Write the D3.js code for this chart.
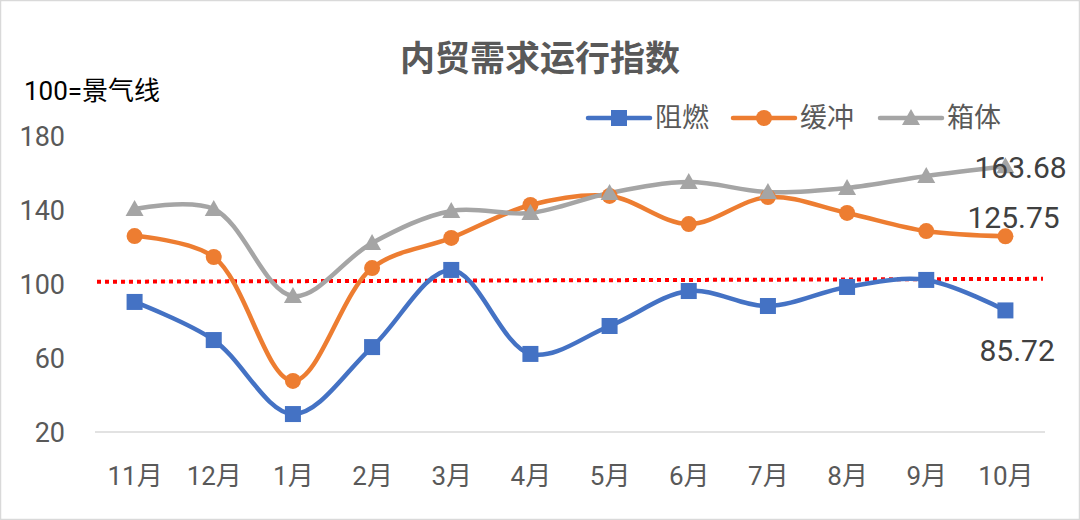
<!DOCTYPE html>
<html><head><meta charset="utf-8">
<script src="https://cdn.jsdelivr.net/npm/d3@7"></script>
<style>
html,body{margin:0;padding:0;background:#fff;}
svg{display:block;}
</style></head>
<body>
<svg id="c" width="1080" height="520"></svg>
<script>
const months = ["11月","12月","1月","2月","3月","4月","5月","6月","7月","8月","9月","10月"];
const flameRetardant = [90.3, 69.7, 29.7, 65.9, 107.6, 62.2, 77.3, 96.2, 88.1, 98.4, 102.2, 85.72];
const cushion = [125.9, 114.6, 47.6, 108.6, 124.9, 142.7, 147.6, 132.4, 147.0, 138.4, 128.6, 125.75];
const boxBody = [140.5, 140.5, 93.5, 122.2, 139.5, 138.4, 149.2, 155.1, 149.7, 151.9, 158.4, 163.68];
const seriesNames = ["阻燃","缓冲","箱体"];
const yTicks = [20, 60, 100, 140, 180];
const refLine = [101.2, 102.8];
const endLabels = ["85.72","125.75","163.68"];
const title = "内贸需求运行指数";
const note = "100=景气线";

const svg = d3.select("#c");
const W = 1080, H = 520;
const plot = {left: 95, right: 1045, top: 136, bottom: 432};
const colors = ["#4472C4", "#ED7D31", "#A5A5A5"];
const data = [flameRetardant, cushion, boxBody];
const cjk = "'Noto Sans CJK SC', 'Noto Sans', sans-serif";
const num = "Roboto, 'Noto Sans CJK SC', sans-serif";

svg.append("rect").attr("x",0.5).attr("y",0.5).attr("width",W-1).attr("height",H-1)
  .attr("fill","#fff").attr("stroke","#d9d9d9").attr("stroke-width",1.5);

const x = d3.scalePoint().domain(months).range([plot.left, plot.right]).padding(0.5);
const y = d3.scaleLinear().domain([20,180]).range([plot.bottom, plot.top]);

// title
svg.append("text").attr("x",540).attr("y",71).attr("text-anchor","middle")
  .attr("font-family",cjk).attr("font-size",35).attr("font-weight","bold").attr("fill","#595959").text(title);
svg.append("text").attr("x",24).attr("y",100)
  .attr("font-family",num).attr("font-size",26).attr("fill","#000").text(note);

// y axis
const yAxis = d3.axisLeft(y).tickValues(yTicks).tickSize(0).tickPadding(0);
const gy = svg.append("g").attr("transform",`translate(65,0)`).call(yAxis);
gy.select(".domain").remove();
gy.selectAll("text").attr("font-family",num).attr("font-size",27).attr("fill","#595959").attr("dy","0.35em");

// x axis
const xAxis = d3.axisBottom(x).tickSize(0).tickPadding(0);
const gx = svg.append("g").attr("transform",`translate(0,${plot.bottom})`).call(xAxis);
gx.select(".domain").attr("stroke","#d9d9d9").attr("stroke-width",1.5).attr("d",`M${plot.left},0H${plot.right}`);
gx.selectAll("text").attr("font-family",num).attr("font-size",26).attr("fill","#595959").attr("y",44).attr("dy","0.35em");

// reference line
svg.append("line").attr("x1",plot.left+2).attr("x2",plot.right-2)
  .attr("y1",y(refLine[0])).attr("y2",y(refLine[1]))
  .attr("stroke","#FF0000").attr("stroke-width",4).attr("stroke-dasharray","4,4");

const line = d3.line().x((d,i)=>x(months[i])).y(d=>y(d)).curve(d3.curveCatmullRom.alpha(0.5));

[0,1,2].forEach(k=>{
  svg.append("path").datum(data[k]).attr("d",line).attr("fill","none")
    .attr("stroke",colors[k]).attr("stroke-width",4.5).attr("stroke-linejoin","round").attr("stroke-linecap","round");
});

function marker(g, k, cx, cy){
  if(k===0){
    g.append("rect").attr("x",cx-8).attr("y",cy-8).attr("width",16).attr("height",16).attr("fill",colors[0]);
  } else if(k===1){
    g.append("circle").attr("cx",cx).attr("cy",cy).attr("r",8).attr("fill",colors[1]);
  } else {
    g.append("path").attr("d",`M${cx},${cy-9}L${cx+9},${cy+7}L${cx-9},${cy+7}Z`).attr("fill",colors[2]);
  }
}
[0,1,2].forEach(k=>{
  const g = svg.append("g");
  data[k].forEach((v,i)=>marker(g,k,x(months[i]),y(v)));
});

// end labels
const lastX = x(months[months.length-1]);
const endPos = [[-26, 40],[-38,-19],[-31,1]];
[0,1,2].forEach(k=>{
  const v = data[k][data[k].length-1];
  svg.append("text").attr("x",lastX+endPos[k][0]).attr("y",y(v)+endPos[k][1]).attr("dy","0.35em")
    .attr("font-family",num).attr("font-size",30).attr("fill","#404040").text(endLabels[k]);
});

// legend
const legX = [588, 733, 880];
seriesNames.forEach((n,k)=>{
  const g = svg.append("g");
  const ly = 118;
  g.append("line").attr("x1",legX[k]).attr("x2",legX[k]+62).attr("y1",ly).attr("y2",ly)
    .attr("stroke",colors[k]).attr("stroke-width",4.5).attr("stroke-linecap","round");
  marker(g,k,legX[k]+31,ly);
  g.append("text").attr("x",legX[k]+67).attr("y",ly).attr("dy","0.35em")
    .attr("font-family",cjk).attr("font-size",27).attr("fill","#595959").text(n);
});
</script>
</body></html>
